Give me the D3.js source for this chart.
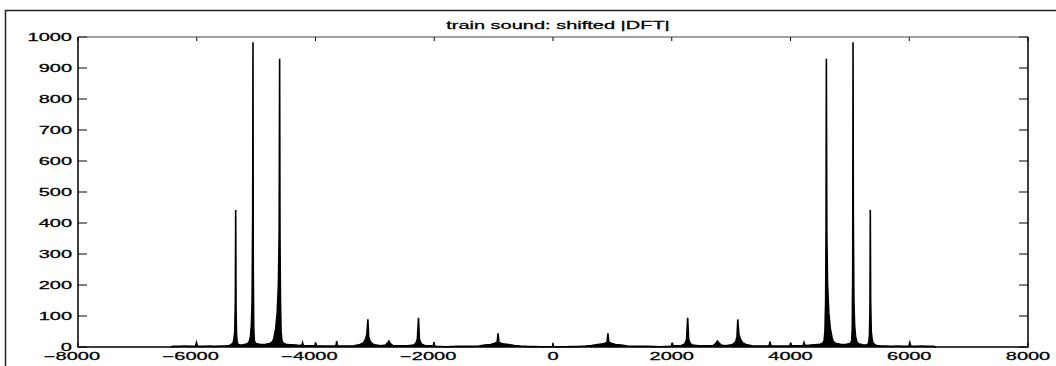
<!DOCTYPE html>
<html>
<head>
<meta charset="utf-8">
<script src="https://cdn.jsdelivr.net/npm/d3@7"></script>
<style>
	body { margin: 0; background: #fff; }
	text { font-family: "Liberation Sans", Arial, Helvetica, sans-serif; fill: #000; stroke: #000; stroke-width: 0.25; }
</style>
</head>
<body>
<div class="container"></div>
<script>

// chart text and ticks
const title = 'train sound: shifted |DFT|'
const xTicks = [-8000, -6000, -4000, -2000, 0, 2000, 4000, 6000, 8000]
const yTicks = [0, 100, 200, 300, 400, 500, 600, 700, 800, 900, 1000]

// spectrum: frequency (Hz) and |DFT|
const freqHz = [
	-6440, -6400, -6300, -6200, -6100, -6020, -6005, -5990, -5900, -5800,
	-5700, -5600, -5500, -5450, -5420, -5390, -5375, -5360, -5350, -5344,
	-5338, -5330, -5318, -5300, -5260, -5220, -5180, -5150, -5115, -5095,
	-5080, -5068, -5058, -5053, -5048, -5040, -5030, -5010, -4980, -4940,
	-4890, -4840, -4800, -4760, -4720, -4700, -4670, -4645, -4625, -4612,
	-4604, -4598, -4590, -4580, -4565, -4540, -4500, -4450, -4380, -4330,
	-4280, -4230, -4218, -4205, -4100, -4010, -3998, -3985, -3850, -3700,
	-3655, -3643, -3630, -3500, -3350, -3250, -3190, -3160, -3135, -3118,
	-3105, -3080, -3040, -2980, -2900, -2820, -2780, -2762, -2745, -2700,
	-2600, -2450, -2350, -2310, -2285, -2265, -2250, -2220, -2160, -2080,
	-2015, -2005, -1995, -1960, -1800, -1600, -1400, -1250, -1150, -1050,
	-980, -940, -925, -910, -850, -750, -650, -550, -450, -200,
	-10, 0, 10, 200, 450, 550, 650, 750, 850, 910,
	925, 940, 980, 1050, 1150, 1250, 1400, 1600, 1800, 1960,
	2000, 2010, 2020, 2080, 2160, 2220, 2250, 2268, 2285, 2310,
	2350, 2450, 2600, 2700, 2745, 2768, 2790, 2830, 2900, 2980,
	3040, 3080, 3100, 3112, 3130, 3160, 3190, 3250, 3350, 3500,
	3640, 3655, 3670, 3850, 3990, 4003, 4015, 4100, 4215, 4227,
	4240, 4290, 4340, 4400, 4450, 4500, 4540, 4565, 4580, 4592,
	4598, 4604, 4612, 4625, 4645, 4670, 4700, 4720, 4760, 4800,
	4840, 4890, 4940, 4980, 5010, 5030, 5040, 5048, 5053, 5058,
	5068, 5080, 5095, 5115, 5150, 5180, 5220, 5260, 5300, 5318,
	5330, 5338, 5344, 5350, 5360, 5375, 5390, 5420, 5450, 5500,
	5600, 5700, 5800, 5900, 5995, 6010, 6025, 6100, 6200, 6300,
	6400, 6450
]
const magnitude = [
	0, 2, 2, 3, 2, 3, 14, 3, 2, 3,
	2, 3, 4, 5, 8, 12, 25, 50, 150, 442,
	120, 40, 15, 8, 6, 7, 9, 10, 18, 35,
	70, 150, 432, 983, 250, 60, 20, 12, 10, 9,
	8, 9, 10, 12, 18, 30, 60, 110, 200, 368,
	930, 360, 150, 50, 20, 12, 9, 8, 7, 6,
	5, 6, 14, 5, 4, 4, 15, 4, 3, 3,
	4, 19, 4, 3, 4, 8, 14, 25, 40, 89,
	35, 18, 10, 6, 4, 6, 14, 19, 12, 5,
	4, 4, 6, 12, 25, 94, 25, 10, 5, 4,
	4, 16, 3, 2, 1, 2, 2, 3, 6, 8,
	12, 16, 44, 15, 10, 8, 5, 3, 2, 1,
	1, 8, 1, 1, 2, 3, 5, 8, 10, 15,
	44, 16, 12, 8, 6, 3, 2, 2, 1, 2,
	3, 14, 4, 4, 5, 10, 25, 94, 25, 12,
	6, 4, 4, 5, 12, 19, 14, 6, 4, 6,
	10, 18, 35, 89, 40, 25, 14, 8, 4, 3,
	4, 17, 4, 3, 4, 14, 4, 4, 5, 14,
	6, 5, 6, 7, 8, 9, 12, 20, 50, 150,
	360, 930, 368, 200, 110, 60, 30, 18, 12, 10,
	9, 8, 9, 10, 12, 20, 60, 250, 983, 432,
	150, 70, 35, 18, 10, 9, 7, 6, 8, 15,
	40, 120, 442, 150, 50, 25, 12, 8, 5, 4,
	3, 2, 3, 2, 3, 14, 3, 2, 3, 2,
	2, 0
]

const width = 1056
const height = 366
const sx = 2.0   // the picture is stretched sideways, text too

let svg = d3.select('.container')
	.append('svg')
	.attr('width', width)
	.attr('height', height)

// figure frame, only its top and left edges are in view
svg.append('path')
	.attr('d', 'M5.5,' + height + 'V10.5H' + width)
	.attr('fill', 'none')
	.attr('stroke', '#222')
	.attr('stroke-width', 1.5)

let x = d3.scaleLinear().domain([-8000, 8000]).range([78, 1028])
let y = d3.scaleLinear().domain([0, 1000]).range([347, 37])

let pts = freqHz.map((f, i) => [f, magnitude[i]])

// dense samples look filled under the envelope
svg.append('path')
	.datum(pts)
	.attr('d', d3.area().x(d => x(d[0])).y0(y(0)).y1(d => y(d[1])))
	.attr('fill', '#000')

svg.append('path')
	.datum(pts)
	.attr('d', d3.line().x(d => x(d[0])).y(d => y(d[1])))
	.attr('fill', 'none')
	.attr('stroke', '#000')
	.attr('stroke-width', 1.6)

// ticks inside the box, on all four sides
let ticks = svg.append('g').attr('stroke', '#000').attr('stroke-width', 1)
yTicks.forEach(t => {
	ticks.append('line').attr('x1', x(-8000)).attr('x2', x(-8000) + 9).attr('y1', y(t)).attr('y2', y(t))
	ticks.append('line').attr('x1', x(8000)).attr('x2', x(8000) - 9).attr('y1', y(t)).attr('y2', y(t))
})
xTicks.forEach(t => {
	ticks.append('line').attr('x1', x(t)).attr('x2', x(t)).attr('y1', y(0)).attr('y2', y(0) - 4)
	ticks.append('line').attr('x1', x(t)).attr('x2', x(t)).attr('y1', y(1000)).attr('y2', y(1000) + 4)
})

// box
svg.append('line').attr('x1', x(-8000)).attr('x2', x(8000)).attr('y1', y(1000)).attr('y2', y(1000))
	.attr('stroke', '#444').attr('stroke-width', 1)
svg.append('path')
	.attr('d', 'M' + x(-8000) + ',' + y(1000) + 'V' + y(0) + 'H' + x(8000) + 'V' + y(1000))
	.attr('fill', 'none')
	.attr('stroke', '#000')
	.attr('stroke-width', 1.5)

// tick labels
yTicks.forEach(t => {
	svg.append('text')
		.attr('transform', 'translate(' + (x(-8000) - 6) + ',' + (y(t) + 3.5) + ') scale(' + sx + ',1)')
		.attr('text-anchor', 'end')
		.attr('font-size', 10)
		.text(t)
})
xTicks.forEach(t => {
	let lbl = t < 0 ? '\u2212' + Math.abs(t) : String(t)
	svg.append('text')
		.attr('transform', 'translate(' + (x(t) - (t < 0 ? 6 : 0)) + ',' + 359.5 + ') scale(' + sx + ',1)')
		.attr('text-anchor', 'middle')
		.attr('font-size', 10)
		.text(lbl)
})

svg.append('text')
	.attr('transform', 'translate(558,29) scale(' + sx + ',1)')
	.attr('text-anchor', 'middle')
	.attr('font-size', 10)
	.text(title)

</script>
</body>
</html>
